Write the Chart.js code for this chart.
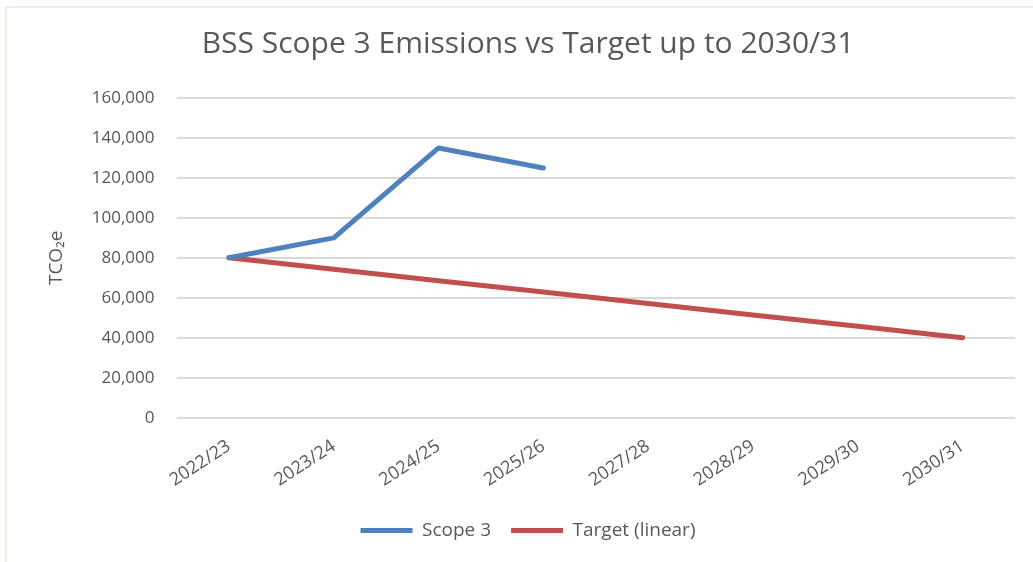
<!DOCTYPE html>
<html>
<head>
<meta charset="utf-8">
<script src="https://cdn.jsdelivr.net/npm/chart.js@4"></script>
<style>
  html, body { margin: 0; padding: 0; background: #fff; }
  #frame {
    position: absolute; left: 5px; top: 6px; right: 0; bottom: 0;
    border-left: 2px solid #efede3; border-top: 2px solid #efede3;
  }
  #wrap { position: absolute; left: 7px; top: 8px; width: 1026px; height: 554px; }
</style>
</head>
<body>
<div id="frame"></div>
<div id="wrap"><canvas id="emissionsChart"></canvas></div>
<script>
const years = ['2022/23', '2023/24', '2024/25', '2025/26', '2027/28', '2028/29', '2029/30', '2030/31'];
const scope3 = [80000, 90000, 135000, 125000, null, null, null, null];
const target = [80000, 74286, 68571, 62857, 57143, 51429, 45714, 40000];
const yTicks = [0, 20000, 40000, 60000, 80000, 100000, 120000, 140000, 160000];

const FONT = "'Open Sans', 'Liberation Sans', sans-serif";
const TEXT = '#595959';

const ctx = document.getElementById('emissionsChart');

new Chart(ctx, {
  type: 'line',
  data: {
    labels: years,
    datasets: [
      {
        label: 'Scope 3',
        data: scope3,
        borderColor: '#4f81bd',
        backgroundColor: '#4f81bd',
        borderWidth: 5,
        borderCapStyle: 'round',
        borderJoinStyle: 'round',
        pointRadius: 0,
        spanGaps: false
      },
      {
        label: 'Target (linear)',
        data: target,
        borderColor: '#c0504d',
        backgroundColor: '#c0504d',
        borderWidth: 5,
        borderCapStyle: 'round',
        borderJoinStyle: 'round',
        pointRadius: 0
      }
    ]
  },
  options: {
    responsive: true,
    maintainAspectRatio: false,
    animation: false,
    layout: { padding: { left: 34, right: 18, top: 0, bottom: 12 } },
    plugins: {
      title: {
        display: true,
        text: 'BSS Scope 3 Emissions vs Target up to 2030/31',
        color: TEXT,
        font: { family: FONT, size: 30, weight: 'normal' },
        padding: { top: 18, bottom: 36 }
      },
      legend: {
        position: 'bottom',
        labels: {
          color: TEXT,
          font: { family: FONT, size: 19 },
          boxWidth: 52,
          boxHeight: 5,
          padding: 20,
          generateLabels(chart) {
            return Chart.defaults.plugins.legend.labels.generateLabels(chart).map(item => {
              item.lineWidth = 0;
              item.strokeStyle = 'transparent';
              return item;
            });
          }
        }
      },
      tooltip: { enabled: false }
    },
    scales: {
      x: {
        offset: true,
        grid: { display: false },
        border: { display: false },
        ticks: {
          color: TEXT,
          font: { family: FONT, size: 18 },
          minRotation: 33,
          maxRotation: 33,
          padding: 10
        }
      },
      y: {
        min: 0,
        max: 160000,
        afterBuildTicks(scale) {
          scale.ticks = yTicks.map(v => ({ value: v }));
        },
        grid: { color: '#d9d9d9', lineWidth: 2, drawTicks: false },
        border: { display: false },
        ticks: {
          color: TEXT,
          font: { family: FONT, size: 17 },
          padding: 22
        },
        title: {
          display: true,
          text: 'TCO₂e',
          color: TEXT,
          font: { family: FONT, size: 19 },
          padding: { bottom: 2 }
        }
      }
    }
  }
});
</script>
</body>
</html>
